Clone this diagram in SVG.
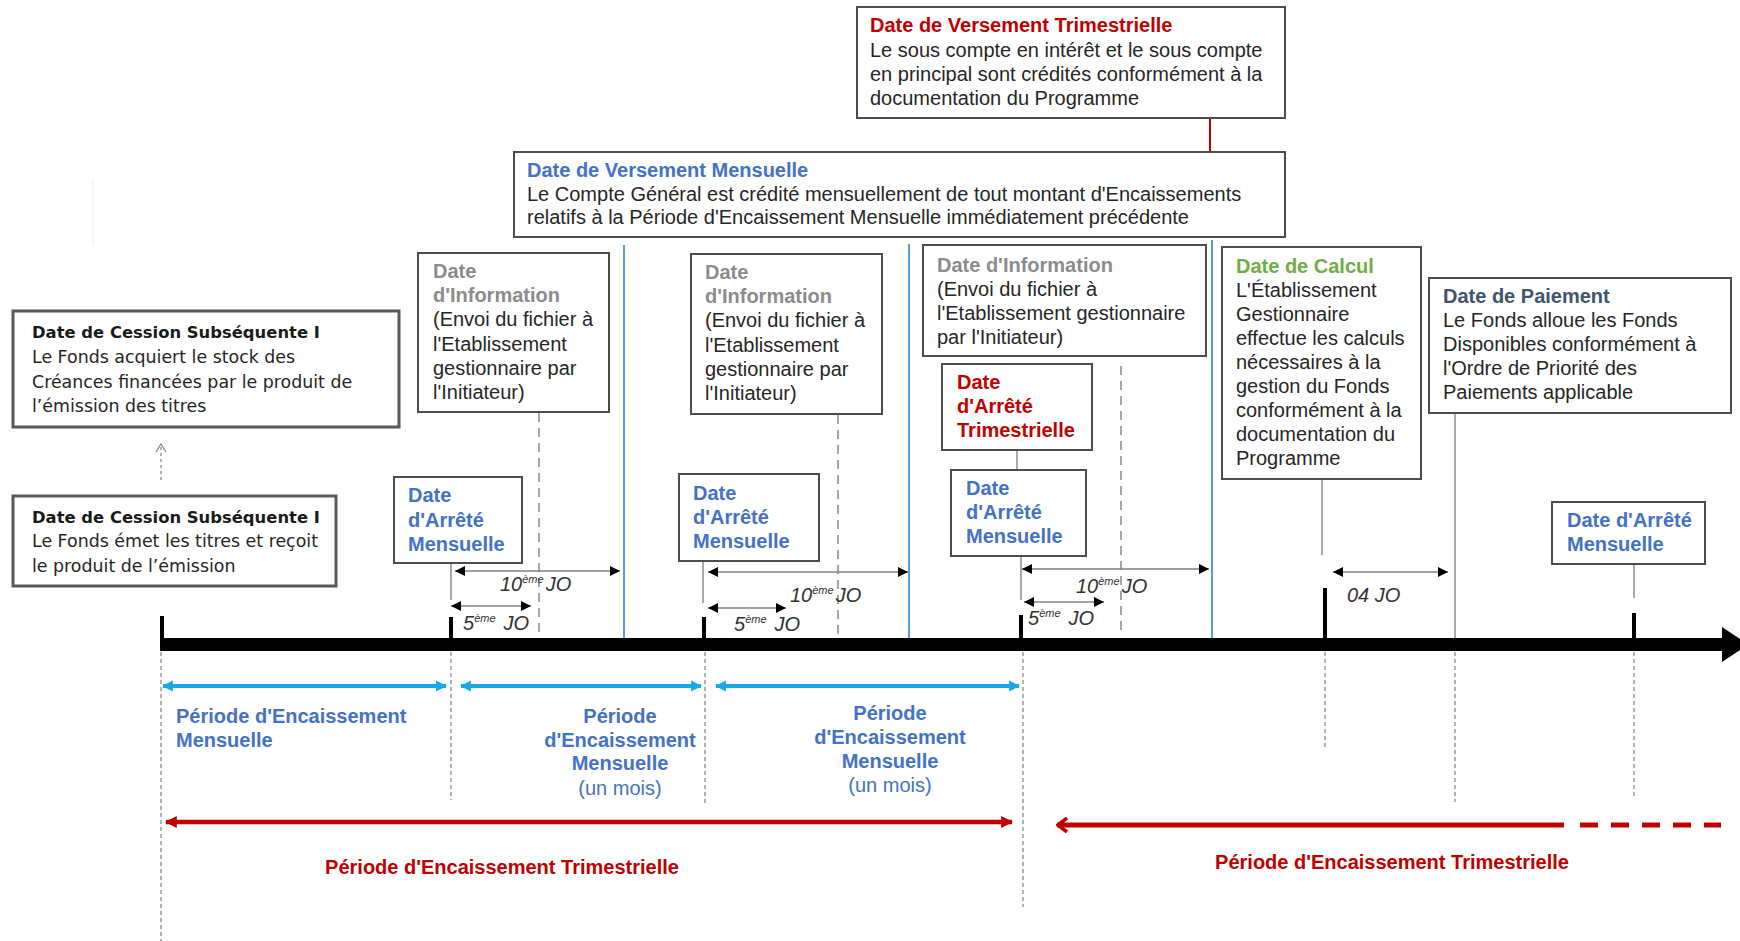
<svg xmlns="http://www.w3.org/2000/svg" width="1740" height="941" viewBox="0 0 1740 941">
<style>
.box{fill:#fff;stroke:#4d4d4d;stroke-width:2}
.cbox{fill:#fff;stroke:#595959;stroke-width:3}
.t{font-family:"Liberation Sans",Arial,sans-serif;font-size:20px;fill:#262626}
.b{font-weight:bold}
.blue{fill:#4472C4}
.red{fill:#C00000}
.gray{fill:#8C8C8C}
.green{fill:#70AD47}
.slate{fill:#44546A}
.c{font-family:"DejaVu Sans","Noto Sans",sans-serif;font-size:17.4px;fill:#262626}
.ct{font-family:"DejaVu Sans","Noto Sans",sans-serif;font-size:16.4px;font-weight:bold;fill:#1a1a1a}
.jo{font-family:"Liberation Sans",Arial,sans-serif;font-size:20px;font-style:italic;fill:#333}
.sup{font-size:11px}
.mid{text-anchor:middle}
.conn{stroke:#8c8c8c;stroke-width:1.5;fill:none}
.blueline{stroke:#5B9BD5;stroke-width:2;fill:none}
.dash{stroke:#a6a6a6;stroke-width:2;stroke-dasharray:9 6;fill:none}
.dot{stroke:#8a8a8a;stroke-width:1.3;stroke-dasharray:4 3;fill:none}
.tick{stroke:#000;stroke-width:4}
.jarrow{stroke:#808080;stroke-width:1.5;marker-start:url(#ah);marker-end:url(#ah)}
.cyan{stroke:#19A9E6;stroke-width:4;marker-start:url(#ahc);marker-end:url(#ahc)}
</style>
<defs>
<marker id="ah" viewBox="0 0 10 10" refX="10" refY="5" markerWidth="11" markerHeight="10" markerUnits="userSpaceOnUse" orient="auto-start-reverse"><path d="M0,0 L10,5 L0,10 z" fill="#000"/></marker>
<marker id="ahc" viewBox="0 0 10 10" refX="9" refY="5" markerWidth="11" markerHeight="13" markerUnits="userSpaceOnUse" orient="auto-start-reverse"><path d="M0,0 L10,5 L0,10 z" fill="#19A9E6"/></marker>
<marker id="ahr" viewBox="0 0 10 10" refX="9" refY="5" markerWidth="12" markerHeight="13" markerUnits="userSpaceOnUse" orient="auto-start-reverse"><path d="M0,0 L10,5 L0,10 z" fill="#C00000"/></marker>
<marker id="ahro" viewBox="0 0 12 16" refX="1" refY="8" markerWidth="12" markerHeight="16" markerUnits="userSpaceOnUse" orient="auto"><path d="M11,1 L2,8 L11,15" fill="none" stroke="#C00000" stroke-width="3.5"/></marker>
<marker id="aho" viewBox="0 0 12 10" refX="6" refY="1" markerWidth="12" markerHeight="10" markerUnits="userSpaceOnUse" orient="0"><path d="M1,9 L6,1 L11,9" fill="none" stroke="#8a8a8a" stroke-width="1.3"/></marker>
</defs>

<!-- faint artifact line -->
<line x1="93" y1="180" x2="93" y2="245" stroke="#eeeeee" stroke-width="1"/>

<g id="connectors">
  <!-- red connector between top boxes -->
  <line x1="1210" y1="118" x2="1210" y2="153" stroke="#C00000" stroke-width="2"/>
  <!-- blue monthly lines -->
  <line class="blueline" x1="624" y1="245" x2="624" y2="644"/>
  <line class="blueline" x1="909" y1="244" x2="909" y2="644"/>
  <line class="blueline" x1="1212" y1="240" x2="1212" y2="644"/>
  <!-- dashed info lines -->
  <line class="dash" x1="539" y1="413" x2="539" y2="640"/>
  <line class="dash" x1="838" y1="415" x2="838" y2="640"/>
  <line class="dash" x1="1121" y1="366" x2="1121" y2="636"/>
  <!-- gray connectors from boxes -->
  <line class="conn" x1="1017" y1="450" x2="1017" y2="470"/>
  <line class="conn" x1="451" y1="563" x2="451" y2="600"/>
  <line class="conn" x1="703" y1="561" x2="703" y2="603"/>
  <line class="conn" x1="1021" y1="556" x2="1021" y2="600"/>
  <line class="conn" x1="1634" y1="564" x2="1634" y2="598"/>
  <line class="conn" x1="1322" y1="479" x2="1322" y2="555"/>
  <line class="conn" x1="1455" y1="413" x2="1455" y2="640"/>
  <!-- dotted arrow between cession boxes -->
  <line x1="161" y1="480" x2="161" y2="444" stroke="#8a8a8a" stroke-width="1.3" stroke-dasharray="3 3" marker-end="url(#aho)"/>
  <!-- axis -->
  <rect x="160" y="638" width="1566" height="13" fill="#000"/>
  <polygon points="1722,627 1748,644.5 1722,662" fill="#000"/>
  <!-- ticks -->
  <line class="tick" x1="162" y1="616" x2="162" y2="640"/>
  <line class="tick" x1="451" y1="617" x2="451" y2="640"/>
  <line class="tick" x1="704" y1="617" x2="704" y2="640"/>
  <line class="tick" x1="1021" y1="615" x2="1021" y2="640"/>
  <line class="tick" x1="1325" y1="588" x2="1325" y2="640"/>
  <line class="tick" x1="1634" y1="613" x2="1634" y2="640"/>
  <!-- dotted lines below axis -->
  <line class="dot" x1="161" y1="652" x2="161" y2="941"/>
  <line class="dot" x1="451" y1="652" x2="451" y2="800"/>
  <line class="dot" x1="705" y1="652" x2="705" y2="805"/>
  <line class="dot" x1="1023" y1="652" x2="1023" y2="907"/>
  <line class="dot" x1="1325" y1="652" x2="1325" y2="749"/>
  <line class="dot" x1="1455" y1="652" x2="1455" y2="802"/>
  <line class="dot" x1="1634" y1="652" x2="1634" y2="798"/>
  <!-- JO arrows -->
  <line class="jarrow" x1="455" y1="571" x2="620" y2="571"/>
  <line class="jarrow" x1="708" y1="572" x2="908" y2="572"/>
  <line class="jarrow" x1="1022" y1="569" x2="1209" y2="569"/>
  <line class="jarrow" x1="451" y1="606" x2="531" y2="606"/>
  <line class="jarrow" x1="708" y1="608" x2="786" y2="608"/>
  <line class="jarrow" x1="1024" y1="602" x2="1104" y2="602"/>
  <line class="jarrow" x1="1333" y1="572" x2="1448" y2="572"/>
  <!-- cyan monthly period arrows -->
  <line class="cyan" x1="163" y1="686" x2="446" y2="686"/>
  <line class="cyan" x1="461" y1="686" x2="701" y2="686"/>
  <line class="cyan" x1="716" y1="686" x2="1019" y2="686"/>
  <!-- red quarterly arrows -->
  <line x1="166" y1="822" x2="1012" y2="822" stroke="#C00000" stroke-width="4.5" marker-start="url(#ahr)" marker-end="url(#ahr)"/>
  <line x1="1057" y1="825" x2="1564" y2="825" stroke="#C00000" stroke-width="5" marker-start="url(#ahro)"/>
  <line x1="1580" y1="825" x2="1721" y2="825" stroke="#C00000" stroke-width="5" stroke-dasharray="18 13"/>
</g>

<g id="jo-labels">
  <text class="jo" x="500" y="591">10<tspan class="sup" dy="-8">ème</tspan><tspan dy="8" dx="2">JO</tspan></text>
  <text class="jo" x="463" y="630">5<tspan class="sup" dy="-8">ème</tspan><tspan dy="8" dx="8">JO</tspan></text>
  <text class="jo" x="790" y="602">10<tspan class="sup" dy="-8">ème</tspan><tspan dy="8" dx="2">JO</tspan></text>
  <text class="jo" x="734" y="631">5<tspan class="sup" dy="-8">ème</tspan><tspan dy="8" dx="8">JO</tspan></text>
  <text class="jo" x="1076" y="593">10<tspan class="sup" dy="-8">ème</tspan><tspan dy="8" dx="2">JO</tspan></text>
  <text class="jo" x="1028" y="625">5<tspan class="sup" dy="-8">ème</tspan><tspan dy="8" dx="8">JO</tspan></text>
  <text class="jo" x="1347" y="602">04 JO</text>
</g>

<g id="period-labels">
  <text class="t b blue" x="176" y="723">Période d'Encaissement</text>
  <text class="t b blue" x="176" y="747">Mensuelle</text>
  <text class="t b blue mid" x="620" y="723">Période</text>
  <text class="t b blue mid" x="620" y="747">d'Encaissement</text>
  <text class="t b blue mid" x="620" y="770">Mensuelle</text>
  <text class="t blue mid" x="620" y="795">(un mois)</text>
  <text class="t b blue mid" x="890" y="720">Période</text>
  <text class="t b blue mid" x="890" y="744">d'Encaissement</text>
  <text class="t b blue mid" x="890" y="768">Mensuelle</text>
  <text class="t blue mid" x="890" y="792">(un mois)</text>
  <text class="t b red mid" x="502" y="874">Période d'Encaissement Trimestrielle</text>
  <text class="t b red mid" x="1392" y="869">Période d'Encaissement Trimestrielle</text>
</g>

<g id="date-versement-trimestrielle">
  <rect class="box" x="857" y="7" width="428" height="111"/>
  <text class="t b red" x="870" y="32">Date de Versement Trimestrielle</text>
  <text class="t" x="870" y="57">Le sous compte en intérêt et le sous compte</text>
  <text class="t" x="870" y="81">en principal  sont crédités conformément à la</text>
  <text class="t" x="870" y="105">documentation  du Programme</text>
</g>

<g id="date-versement-mensuelle">
  <rect class="box" x="514" y="152" width="771" height="85"/>
  <text class="t b blue" x="527" y="177">Date de Versement Mensuelle</text>
  <text class="t" x="527" y="201">Le Compte Général est crédité  mensuellement  de tout montant d'Encaissements</text>
  <text class="t" x="527" y="224">relatifs à la Période d'Encaissement Mensuelle  immédiatement  précédente</text>
</g>

<g id="cession-1">
  <rect class="cbox" x="13" y="311" width="386" height="116"/>
  <text class="ct" x="32" y="338">Date de Cession Subséquente I</text>
  <text class="c" x="32" y="363">Le Fonds acquiert le stock des</text>
  <text class="c" x="32" y="388">Créances financées par le produit de</text>
  <text class="c" x="32" y="412">l’émission des titres</text>
</g>

<g id="cession-2">
  <rect class="cbox" x="13" y="496" width="323" height="90"/>
  <text class="ct" x="32" y="523">Date de Cession Subséquente I</text>
  <text class="c" x="32" y="547">Le Fonds émet les titres et reçoit</text>
  <text class="c" x="32" y="572">le produit de l’émission</text>
</g>

<g id="info-1">
  <rect class="box" x="418" y="253" width="191" height="159"/>
  <text class="t b gray" x="433" y="278">Date</text>
  <text class="t b gray" x="433" y="302">d'Information</text>
  <text class="t" x="433" y="326">(Envoi du fichier à</text>
  <text class="t" x="433" y="351">l'Etablissement</text>
  <text class="t" x="433" y="375">gestionnaire par</text>
  <text class="t" x="433" y="399">l'Initiateur)</text>
</g>

<g id="info-2">
  <rect class="box" x="691" y="254" width="191" height="160"/>
  <text class="t b gray" x="705" y="279">Date</text>
  <text class="t b gray" x="705" y="303">d'Information</text>
  <text class="t" x="705" y="327">(Envoi du fichier à</text>
  <text class="t" x="705" y="352">l'Etablissement</text>
  <text class="t" x="705" y="376">gestionnaire par</text>
  <text class="t" x="705" y="400">l'Initiateur)</text>
</g>

<g id="info-3">
  <rect class="box" x="923" y="245" width="283" height="111"/>
  <text class="t b gray" x="937" y="272">Date d'Information</text>
  <text class="t" x="937" y="296">(Envoi du fichier à</text>
  <text class="t" x="937" y="320">l'Etablissement  gestionnaire</text>
  <text class="t" x="937" y="344">par l'Initiateur)</text>
</g>

<g id="arrete-trimestrielle">
  <rect class="box" x="942" y="364" width="150" height="86"/>
  <text class="t b red" x="957" y="389">Date</text>
  <text class="t b red" x="957" y="413">d'Arrêté</text>
  <text class="t b red" x="957" y="437">Trimestrielle</text>
</g>

<g id="arrete-mensuelle-1">
  <rect class="box" x="394" y="477" width="128" height="86"/>
  <text class="t b blue" x="408" y="502">Date</text>
  <text class="t b blue" x="408" y="527">d'Arrêté</text>
  <text class="t b blue" x="408" y="551">Mensuelle</text>
</g>

<g id="arrete-mensuelle-2">
  <rect class="box" x="679" y="474" width="140" height="87"/>
  <text class="t b blue" x="693" y="500">Date</text>
  <text class="t b blue" x="693" y="524">d'Arrêté</text>
  <text class="t b blue" x="693" y="548">Mensuelle</text>
</g>

<g id="arrete-mensuelle-3">
  <rect class="box" x="951" y="470" width="135" height="86"/>
  <text class="t b blue" x="966" y="495">Date</text>
  <text class="t b blue" x="966" y="519">d'Arrêté</text>
  <text class="t b blue" x="966" y="543">Mensuelle</text>
</g>

<g id="arrete-mensuelle-4">
  <rect class="box" x="1552" y="502" width="153" height="62"/>
  <text class="t b blue" x="1567" y="527">Date d'Arrêté</text>
  <text class="t b blue" x="1567" y="551">Mensuelle</text>
</g>

<g id="date-calcul">
  <rect class="box" x="1222" y="247" width="199" height="232"/>
  <text class="t b green" x="1236" y="273">Date de Calcul</text>
  <text class="t" x="1236" y="297">L'Établissement</text>
  <text class="t" x="1236" y="321">Gestionnaire</text>
  <text class="t" x="1236" y="345">effectue les calculs</text>
  <text class="t" x="1236" y="369">nécessaires à la</text>
  <text class="t" x="1236" y="393">gestion du Fonds</text>
  <text class="t" x="1236" y="417">conformément à la</text>
  <text class="t" x="1236" y="441">documentation  du</text>
  <text class="t" x="1236" y="465">Programme</text>
</g>

<g id="date-paiement">
  <rect class="box" x="1429" y="278" width="302" height="135"/>
  <text class="t b slate" x="1443" y="303">Date de Paiement</text>
  <text class="t" x="1443" y="327">Le Fonds alloue les Fonds</text>
  <text class="t" x="1443" y="351">Disponibles conformément à</text>
  <text class="t" x="1443" y="375">l'Ordre de Priorité des</text>
  <text class="t" x="1443" y="399">Paiements applicable</text>
</g>
</svg>
